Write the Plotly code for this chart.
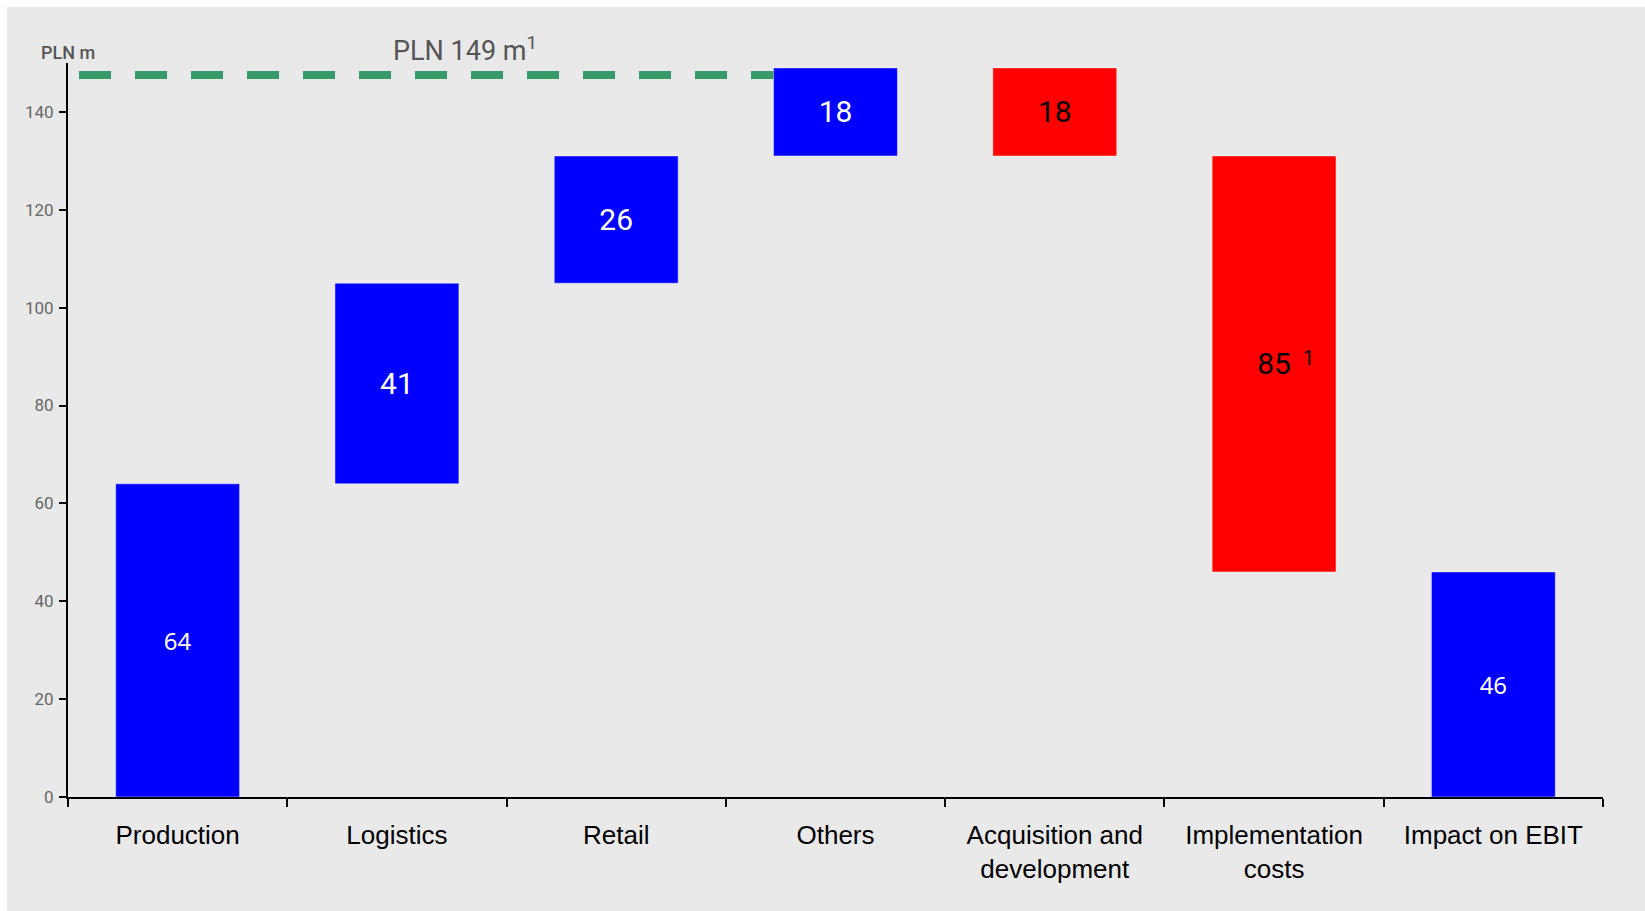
import plotly.graph_objects as go

# Bridge from segment savings to the EBIT impact (PLN m)
categories = ["Production", "Logistics", "Retail", "Others",
              "Acquisition and<br>development", "Implementation<br>costs",
              "Impact on EBIT"]
changes = [64, 41, 26, 18, -18, -85]
measures = ["relative"] * len(changes) + ["total"]
ytick_values = [0, 20, 40, 60, 80, 100, 120, 140]

gross_total = sum(v for v in changes if v > 0)          # 149
net_total = sum(changes)                                  # 46
bar_values = changes + [net_total]
bar_labels = [str(abs(v)) for v in bar_values]

BLUE = "#0000ff"
RED = "#ff0000"
BG = "#e9e9e9"
GREEN = "#379a68"

W, H = 1645, 911
M_L, M_R, M_T, M_B = 68, 42, 63, 114
plot_w = W - M_L - M_R
plot_h = H - M_T - M_B
gap = 0.435
bar_w = 1 - gap

big = dict(family="Roboto", size=30)
small = dict(family="Noto Sans", size=24)
label_family = [small["family"], big["family"], big["family"], big["family"],
                big["family"], big["family"], small["family"]]
label_size = [small["size"], big["size"], big["size"], big["size"],
              big["size"], big["size"], small["size"]]
label_color = ["white" if v > 0 else "black" for v in bar_values]

fig = go.Figure()
fig.add_trace(go.Waterfall(
    x=categories,
    y=bar_values,
    measure=measures,
    text=bar_labels,
    textposition="inside",
    insidetextanchor="middle",
    constraintext="none",
    insidetextfont=dict(family=label_family, size=label_size, color=label_color),
    textfont=dict(family=label_family, size=label_size, color=label_color),
    increasing=dict(marker=dict(color=BLUE, line=dict(color="rgba(255,255,255,0.45)", width=1))),
    decreasing=dict(marker=dict(color=RED, line=dict(color="rgba(255,255,255,0.45)", width=1))),
    totals=dict(marker=dict(color=BLUE, line=dict(color="rgba(255,255,255,0.45)", width=1))),
    connector=dict(visible=False),
    hoverinfo="skip",
    showlegend=False,
))

# dashed reference line at the gross total, ending at the "Others" bar
others_idx = 3
line_start = -0.5 + 11 / (plot_w / len(categories))
line_end = others_idx - bar_w / 2

shapes = [
    # page background (white strip on top and left)
    dict(type="rect", xref="paper", yref="paper", layer="below",
         x0=(7 - M_L) / plot_w, x1=(W - M_L) / plot_w,
         y0=-(M_B + 5) / plot_h, y1=(plot_h + M_T - 7) / plot_h,
         fillcolor=BG, line=dict(width=0)),
    # line anchored at the gross total, drawn just beneath the bar tops
    dict(type="line", xref="x", yref="y", ysizemode="pixel", yanchor=gross_total,
         x0=line_start, x1=line_end, y0=-7, y1=-7,
         line=dict(color=GREEN, width=8, dash="32px,24px")),
]

impl_idx = 5
impl_top = sum(changes[:impl_idx])
impl_mid = impl_top + changes[impl_idx] / 2

annotations = [
    dict(text="PLN m", xref="paper", yref="paper", x=0, y=1, yshift=11,
         xanchor="center", yanchor="middle", showarrow=False,
         font=dict(family="Roboto", size=18, color="#555555", weight=500)),
    dict(text=f"PLN {gross_total} m<sup>1</sup>", xref="paper", yref="paper",
         x=(391 - M_L) / plot_w, y=1, yshift=14,
         xanchor="left", yanchor="middle", showarrow=False,
         font=dict(family="Roboto", size=27, color="#555555")),
    dict(text="1", xref="x", yref="y", x=impl_idx, y=impl_mid,
         xshift=34, yshift=6, xanchor="center", yanchor="middle",
         showarrow=False, font=dict(family="Roboto", size=20, color="black")),
]

fig.update_layout(
    width=W, height=H,
    margin=dict(l=M_L, r=M_R, t=M_T, b=M_B, pad=0),
    paper_bgcolor="white",
    plot_bgcolor=BG,
    waterfallgap=gap,
    shapes=shapes,
    annotations=annotations,
    xaxis=dict(
        type="category",
        range=[-0.5, len(categories) - 0.5],
        showline=True, linecolor="black", linewidth=2,
        ticks="outside", tickson="boundaries", ticklen=8,
        tickcolor="black", tickwidth=1.5,
        showgrid=False, zeroline=False,
        ticklabelstandoff=14,
        tickfont=dict(family="Liberation Sans", size=26, color="black"),
        fixedrange=True,
    ),
    yaxis=dict(
        range=[0, 150],
        tickvals=ytick_values,
        showline=True, linecolor="black", linewidth=2,
        ticks="outside", ticklen=7, tickcolor="black", tickwidth=1.5,
        showgrid=False, zeroline=False,
        ticklabelstandoff=2,
        tickfont=dict(family="Roboto", size=17, color="#666666"),
        fixedrange=True,
    ),
)

fig.write_html("out.html", config=dict(displayModeBar=False))
